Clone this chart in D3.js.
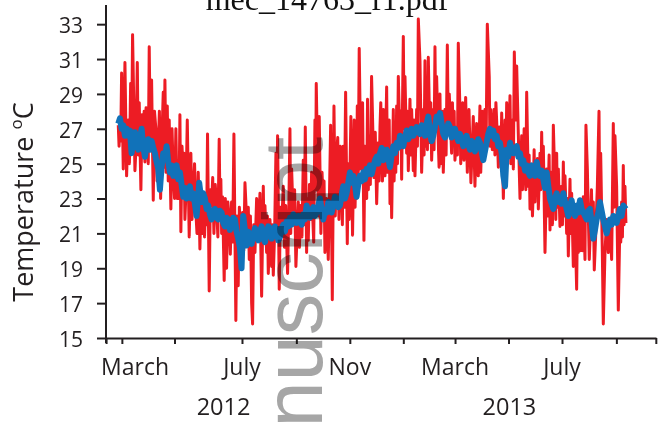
<!DOCTYPE html>
<html><head><meta charset="utf-8">
<script src="https://cdn.jsdelivr.net/npm/d3@7"></script>
<style>body{margin:0;background:#fff}svg{display:block}</style>
</head><body><svg id="c" width="660" height="422"></svg>
<script>
// day = days since 2012-01-01 (UTC), temp in °C
const redSeries = [
[40.9,27.2],[41.8,26.0],[42.8,27.5],[43.7,26.3],[44.7,30.2],[46.6,24.7],[48.5,30.8],[50.4,24.3],[52.3,27.5],[53.6,25.0],[55.0,29.6],[56.1,26.0],[57.2,32.4],[59.9,24.6],[61.0,25.8],[62.6,30.8],[63.7,25.5],[64.8,28.5],[66.7,23.5],[68.0,27.8],[69.4,26.4],[70.4,28.0],[71.3,25.1],[72.6,28.2],[74.0,27.5],[75.1,25.0],[76.2,31.7],[77.5,26.0],[78.9,29.8],[80.8,22.9],[82.2,28.0],[83.8,27.0],[85.1,24.0],[86.5,26.0],[87.8,28.0],[89.2,23.0],[90.7,26.5],[92.2,29.1],[93.1,24.8],[94.1,29.8],[95.4,24.5],[96.8,28.3],[97.9,24.0],[99.0,27.5],[100.9,22.4],[102.2,27.0],[103.6,24.5],[105.1,23.0],[106.6,27.0],[108.0,23.0],[109.3,25.2],[110.2,23.0],[111.2,27.8],[112.3,21.1],[113.6,26.0],[115.0,24.3],[116.0,25.6],[116.9,21.8],[118.2,23.5],[119.6,27.5],[121.8,20.8],[122.8,23.0],[123.7,25.6],[125.0,21.8],[126.4,23.3],[127.9,25.0],[129.4,22.2],[130.7,21.0],[132.1,24.5],[133.0,22.8],[134.0,20.1],[135.5,23.5],[136.7,21.0],[137.8,22.6],[139.3,20.8],[140.8,23.3],[141.7,21.5],[142.7,26.7],[144.6,17.7],[146.0,23.5],[147.3,22.6],[148.6,24.2],[150.0,21.0],[151.5,23.8],[153.0,22.6],[154.5,20.8],[156.0,26.4],[157.0,22.0],[157.9,24.1],[158.8,21.0],[159.8,23.1],[161.7,18.3],[163.0,23.0],[164.4,19.0],[165.9,22.8],[167.4,21.8],[168.7,19.8],[170.1,22.8],[171.4,20.5],[172.8,26.7],[175.0,16.0],[176.3,22.0],[177.7,18.0],[179.0,22.5],[180.4,21.0],[181.5,19.5],
[182.7,22.2],[184.0,20.0],[185.4,23.9],[188.1,20.9],[189.2,22.5],[190.3,19.5],[191.6,22.0],[193.0,17.0],[194.1,15.8],[195.4,21.5],[196.8,19.9],[198.7,23.0],[200.6,20.9],[202.5,23.3],[204.4,17.4],[206.3,23.7],[207.2,20.5],[208.2,22.6],[210.1,19.9],[211.0,22.0],[212.0,18.7],[213.9,21.8],[215.8,19.1],[216.7,21.5],[217.7,18.6],[219.2,21.0],[220.7,25.6],[221.6,21.5],[222.6,26.6],[224.5,17.8],[225.8,22.5],[227.2,21.4],[229.1,23.7],[230.4,20.2],[231.8,22.6],[234.0,18.7],[235.3,22.0],[236.7,27.0],[237.6,21.0],[238.6,24.7],[240.5,21.8],[242.0,23.5],[243.5,19.1],[246.2,22.8],[247.5,20.2],[248.9,22.6],[250.4,20.8],[251.9,25.2],[253.0,21.5],[254.2,27.1],[255.7,19.9],[256.6,23.0],[257.6,20.6],[259.0,23.8],[260.3,21.8],[261.4,24.5],[262.5,22.2],[263.8,20.5],[265.2,27.5],[266.0,23.5],[266.7,29.6],[268.2,25.2],[269.1,22.0],[270.1,27.7],[272.0,21.0],[273.3,24.5],[274.7,22.6],[275.6,24.0],[276.6,19.9],[278.5,23.0],[280.4,19.5],[281.7,23.0],[283.1,27.2],[285.0,17.2],[286.9,28.3],[288.4,22.0],[289.9,25.6],[291.2,26.5],[292.6,21.8],[294.1,26.0],[295.6,23.7],[296.5,21.5],[297.5,26.0],[298.8,22.5],[300.2,29.1],[301.2,24.5],[302.1,20.4],[303.2,25.0],[304.3,21.8],[306.2,27.7],[308.1,20.9],[310.0,27.5],[311.0,22.5],[311.9,25.2],[312.7,23.0],[313.5,28.3],[314.6,24.5],[315.7,31.6],[317.6,24.7],[319.5,28.5],[321.1,20.6],[322.2,26.0],[323.3,24.6],[324.2,23.0],[325.2,28.7],[326.1,23.5],[327.1,26.6],[328.4,23.8],[329.8,30.0],[332.5,24.2],[334.0,26.8],
[335.6,22.7],[337.5,26.2],[338.4,24.0],[339.4,27.1],[340.3,28.5],[341.3,25.8],[342.2,24.0],[343.2,28.1],[345.1,24.3],[347.0,29.4],[347.9,24.5],[348.9,26.2],[349.9,27.5],[350.8,22.7],[351.7,26.0],[352.7,21.9],[354.6,28.1],[355.5,24.0],[356.5,26.2],[357.4,24.5],[358.4,28.3],[359.3,25.0],[360.3,30.0],[362.2,26.2],[363.1,28.0],[364.1,24.1],[366.0,32.3],[366.9,27.0],[367.9,30.0],[369.8,25.6],[370.7,28.0],[371.7,24.6],[373.6,28.7],[374.5,25.5],[375.5,28.1],[377.4,24.6],[378.3,27.5],[379.3,24.3],[381.2,28.1],[382.1,26.0],[383.1,33.3],[385.0,30.9],[386.9,24.5],[388.8,28.1],[389.7,25.5],[390.7,30.9],[391.6,26.0],[392.6,28.1],[393.5,25.8],[394.5,31.1],[396.4,26.2],[397.3,28.5],[398.3,25.2],[400.2,28.1],[401.1,25.8],[402.1,31.7],[403.0,27.0],[404.0,30.0],[405.9,26.2],[406.8,24.8],[407.8,29.0],[408.7,25.0],[409.7,27.1],[410.6,28.0],[411.6,24.5],[413.5,28.1],[414.8,25.5],[416.2,31.8],[417.3,27.0],[418.4,29.0],[421.1,25.6],[422.0,28.5],[423.0,26.2],[424.0,28.0],[424.9,25.2],[426.8,27.1],[427.7,25.5],[428.7,31.9],[430.6,28.1],[431.5,25.0],[432.5,26.2],[433.8,28.5],[435.2,25.2],[437.1,28.8],[439.0,24.5],[440.9,28.1],[443.1,23.9],[445.8,27.7],[447.7,23.7],[449.6,27.3],[451.5,24.3],[453.4,28.3],[454.3,24.5],[455.3,26.2],[456.2,28.0],[457.2,25.2],[459.1,28.1],[460.4,26.0],[461.8,33.0],[464.0,30.0],[464.8,26.0],[465.6,28.1],[467.5,25.8],[469.4,28.1],[470.5,25.5],[471.6,28.5],[473.5,26.2],[474.4,24.8],[475.4,27.1],[477.3,25.2],
[478.2,27.9],[480.1,23.0],[482.0,27.5],[482.9,25.0],[483.9,28.5],[485.8,25.6],[487.7,28.9],[488.6,25.0],[489.6,27.5],[491.5,24.7],[492.6,31.4],[494.2,27.5],[495.3,30.6],[497.2,26.6],[499.1,23.0],[501.0,26.6],[501.9,23.5],[502.9,24.7],[503.8,27.0],[504.8,25.6],[505.7,23.5],[506.7,29.1],[508.6,23.7],[509.5,25.5],[510.5,22.4],[512.4,24.7],[513.3,22.0],[514.3,23.7],[515.2,25.8],[516.2,22.8],[517.1,25.0],[518.1,23.3],[519.0,25.3],[520.0,22.4],[521.9,25.6],[522.8,23.5],[523.8,26.8],[524.7,23.8],[525.7,26.0],[527.6,19.9],[529.5,24.7],[530.4,22.0],[531.4,23.7],[532.3,25.5],[533.3,21.2],[534.2,24.5],[535.2,22.8],[536.1,21.5],[537.1,27.2],[539.0,23.7],[539.9,21.8],[540.9,25.6],[541.8,22.5],[542.8,24.7],[544.7,21.4],[546.6,23.7],[547.5,21.5],[548.5,25.1],[549.4,22.0],[550.4,24.3],[552.3,21.0],[553.2,23.0],[554.2,19.7],[556.1,24.1],[557.0,21.0],[558.0,23.3],[559.9,19.1],[561.8,21.8],[563.7,17.8],[564.6,22.0],[565.6,19.9],[567.5,22.8],[568.4,20.0],[569.4,21.8],[570.3,20.0],[571.3,23.1],[573.2,19.5],[574.3,27.2],[575.9,24.7],[578.1,19.5],[579.7,21.8],[580.6,23.5],[581.6,20.9],[582.7,22.8],[583.8,18.9],[585.4,20.9],[587.3,23.7],[589.2,28.0],[590.1,22.0],[591.1,25.6],[593.0,19.9],[594.1,15.8],[596.0,19.9],[597.9,21.8],[599.8,19.9],[601.7,21.8],[603.6,19.5],[605.5,27.3],[606.4,22.5],[607.4,26.6],[609.3,23.7],[611.2,16.6],[613.1,21.8],[614.0,20.5],[615.0,22.8],[615.9,20.8],[616.9,24.9],[617.8,21.5],[618.8,23.7],[619.9,21.6]
];
const blueSeries = [
[40.9,27.3],[42.8,27.6],[44.7,27.0],[46.6,27.2],[48.5,26.6],[50.4,27.0],[52.3,26.6],[54.2,26.9],[56.1,25.6],[58.0,26.3],[59.9,26.8],[61.8,26.1],[63.7,25.8],[65.6,26.4],[67.5,27.0],[69.4,26.0],[71.3,25.4],[73.2,26.0],[75.1,26.4],[77.0,25.8],[78.9,26.3],[80.8,25.9],[82.7,25.6],[84.6,25.1],[86.5,24.7],[88.4,23.5],[90.3,24.8],[92.2,25.6],[94.1,25.3],[96.0,26.0],[97.9,25.1],[99.8,24.5],[101.7,24.9],[103.6,24.3],[105.5,24.6],[107.4,24.9],[109.3,24.1],[111.2,24.5],[113.1,23.8],[115.0,23.1],[116.9,23.6],[118.8,23.0],[120.7,23.4],[122.6,23.7],[124.5,23.0],[126.4,23.3],[128.3,22.7],[130.2,22.0],[133.2,23.9],[135.9,22.8],[137.8,23.3],[139.7,23.0],[141.6,22.4],[143.5,22.6],[145.4,22.1],[147.3,21.8],[149.2,22.3],[151.1,22.4],[153.0,21.9],[154.9,21.8],[156.8,22.3],[158.7,22.2],[160.6,21.6],[162.5,21.4],[164.4,21.9],[166.3,21.8],[168.2,21.2],[170.1,21.4],[172.0,21.9],[173.9,21.8],[175.8,21.1],[177.7,20.7],[179.6,20.2],[181.5,19.0],[183.4,22.0],
[185.3,21.2],[187.3,20.3],[189.2,21.1],[191.1,20.8],[193.0,20.4],[194.9,20.9],[196.8,21.3],[198.7,21.0],[200.6,20.6],[202.5,21.1],[204.4,21.4],[206.3,20.7],[208.2,20.5],[210.1,21.0],[212.0,21.4],[213.9,21.3],[215.8,20.7],[217.7,20.9],[219.6,21.4],[221.5,21.2],[223.4,20.6],[225.3,20.8],[227.2,21.3],[229.1,21.5],[231.0,21.1],[232.9,21.7],[234.8,21.4],[236.7,21.9],[238.6,21.5],[240.5,22.1],[242.4,21.9],[244.3,21.6],[246.2,22.0],[248.1,21.7],[250.0,21.5],[251.9,22.1],[253.8,21.8],[255.7,22.6],[257.6,22.2],[259.5,21.9],[261.4,22.3],[263.3,22.5],[265.2,22.0],[267.1,22.2],[269.0,22.6],[270.9,23.0],[272.8,22.4],[274.7,21.8],[276.6,22.3],[278.5,22.2],[280.4,22.8],[282.3,22.6],[284.2,22.2],[286.1,22.6],[288.0,23.1],[289.9,23.0],[291.8,22.5],[293.7,22.6],[295.6,23.2],[297.5,23.7],[299.4,23.0],[301.3,23.3],[303.2,23.9],[305.1,24.5],[307.0,23.9],[308.9,24.3],[310.8,23.8],[312.7,23.1],[314.6,23.8],[316.5,24.3],[318.4,24.0],[320.3,24.5],[322.2,24.1],[324.1,24.7],[326.0,24.4],[327.9,24.9],
[329.9,24.4],[331.8,24.8],[333.7,25.2],[335.6,25.4],[337.5,25.0],[339.4,25.6],[341.3,25.9],[343.2,25.2],[345.1,25.5],[347.0,25.8],[348.9,25.3],[350.8,24.8],[352.7,25.5],[354.6,26.0],[356.5,25.6],[358.4,26.2],[360.3,25.9],[362.2,26.6],[364.1,26.4],[366.0,26.0],[367.9,26.5],[369.8,26.9],[371.7,26.4],[373.6,26.7],[375.5,27.0],[377.4,26.6],[379.3,26.8],[381.2,27.1],[383.1,26.9],[385.0,26.7],[386.9,27.2],[388.8,26.9],[390.7,26.6],[392.6,27.3],[394.5,27.7],[396.4,26.7],[398.3,26.3],[400.2,26.6],[402.1,27.1],[404.0,27.7],[405.9,27.4],[407.8,27.9],[409.7,27.3],[411.6,26.7],[413.5,26.5],[415.4,26.9],[417.3,27.3],[419.2,27.1],[421.1,26.5],[423.0,26.7],[424.9,27.0],[426.8,26.6],[428.7,26.3],[430.6,26.7],[432.5,26.4],[434.4,26.0],[436.3,26.3],[438.2,26.6],[440.1,26.1],[442.0,25.8],[443.9,26.3],[445.8,26.2],[447.7,25.7],[449.6,26.0],[451.5,26.4],[453.4,26.2],[455.3,25.7],[457.2,25.2],[459.1,25.7],[461.0,26.2],[462.9,26.7],[464.8,27.0],[466.7,26.6],[468.6,26.9],[470.5,26.4],[472.4,26.6],[474.3,26.0],[476.2,26.2],[478.2,25.6],
[480.1,24.3],[482.0,23.7],[483.9,25.8],[485.8,25.4],[487.7,26.2],[489.6,25.8],[491.5,25.6],[493.4,25.9],[495.3,26.0],[497.2,25.4],[499.1,25.6],[501.0,25.0],[502.9,25.2],[504.8,24.6],[506.7,24.9],[508.6,24.5],[510.5,24.3],[512.4,24.9],[514.3,24.7],[516.2,24.3],[518.1,25.1],[520.0,24.6],[521.9,24.3],[523.8,24.6],[525.7,24.1],[527.6,23.6],[529.5,24.5],[531.4,23.7],[533.3,23.0],[535.2,22.7],[537.1,22.4],[539.0,23.0],[540.9,23.3],[542.8,22.8],[544.7,23.0],[546.6,22.7],[548.5,23.3],[550.4,22.8],[552.3,22.4],[554.2,22.0],[556.1,22.6],[558.0,22.9],[559.9,22.2],[561.8,22.0],[563.7,22.6],[565.6,22.2],[567.5,22.9],[569.4,22.4],[571.3,22.2],[573.2,22.0],[575.1,21.8],[577.0,22.3],[578.9,22.4],[580.8,21.6],[582.7,20.7],[584.6,21.2],[586.5,21.8],[588.4,22.2],[590.3,22.8],[592.2,22.3],[594.1,21.8],[596.0,21.4],[597.9,21.0],[599.8,21.4],[601.7,21.8],[603.6,21.5],[605.5,22.0],[607.4,21.9],[609.3,21.6],[611.2,22.0],[613.1,22.4],[615.0,22.0],[616.9,22.6],[619.9,22.4]
];
const yTicks = [15,17,19,21,23,25,27,29,31,33];
const xTickDates = ["2012-01-28","2012-02-15","2012-04-15","2012-07-01","2012-09-01","2012-11-01","2013-01-01","2013-03-01","2013-05-01","2013-07-01","2013-09-01","2013-10-16"];
const monthLabels = [["2012-03-01","March"],["2012-07-01","July"],["2012-11-01","Nov"],["2013-03-01","March"],["2013-07-01","July"]];
const yearLabels = [["2012-06-10","2012"],["2013-05-02","2013"]];
const titleText = "mec_14763_f1.pdf";
const yTitleText = "Temperature ";
const watermarkText = "manuscript";

const base = Date.UTC(2012,0,1);
const toDate = d => new Date(base + d*864e5);
const parse = d3.utcParse("%Y-%m-%d");

const svg = d3.select("#c");
const ink = "#231f20";
const x = d3.scaleUtc().domain([toDate(26.9), toDate(654.2)]).range([106,656]);
const y = d3.scaleLinear().domain([15,34.1]).range([338,5]);

// title (cut off at top, as in the source)
svg.append("text").attr("x",327).attr("y",9.5).attr("text-anchor","middle")
  .attr("font-family","Liberation Serif").attr("font-size",32).attr("fill","#111").text(titleText);

// data lines
const line = d3.line().x(d=>x(toDate(d[0]))).y(d=>y(d[1]));
svg.append("path").datum(redSeries).attr("d",line).attr("fill","none")
  .attr("stroke","#ed1c24").attr("stroke-width",3).attr("stroke-linejoin","round");
svg.append("path").datum(blueSeries).attr("d",line).attr("fill","none")
  .attr("stroke","#1172b9").attr("stroke-width",6).attr("stroke-linejoin","round");

// y axis
const ya = svg.append("g").attr("transform","translate(106,0)")
  .call(d3.axisLeft(y).tickValues(yTicks).tickSize(9).tickPadding(14).tickSizeOuter(0));
ya.select(".domain").remove();
ya.selectAll(".tick line").attr("stroke",ink).attr("stroke-width",2);
ya.selectAll(".tick text").attr("font-family","Open Sans").attr("font-size",21).attr("fill",ink).attr("dy","0.4em");
svg.append("line").attr("x1",106).attr("x2",106).attr("y1",y.range()[1]).attr("y2",y(15)+5)
  .attr("stroke",ink).attr("stroke-width",2);

// x axis
const xa = svg.append("g").attr("transform",`translate(0,${y(15)})`)
  .call(d3.axisBottom(x).tickValues(xTickDates.map(parse)).tickSize(6).tickSizeOuter(0).tickFormat(""));
xa.select(".domain").attr("stroke",ink).attr("stroke-width",2);
xa.selectAll(".tick line").attr("stroke",ink).attr("stroke-width",2);

svg.append("g").selectAll("text").data(monthLabels).join("text")
  .attr("x",d=>x(parse(d[0]))).attr("y",375).attr("text-anchor","middle")
  .attr("font-family","Open Sans").attr("font-size",23).attr("fill",ink).text(d=>d[1]);
svg.append("g").selectAll("text").data(yearLabels).join("text")
  .attr("x",d=>x(parse(d[0]))).attr("y",415).attr("text-anchor","middle")
  .attr("font-family","Open Sans").attr("font-size",23.5).attr("fill",ink).text(d=>d[1]);

// y title
const yt = svg.append("text").attr("transform","translate(33,202) rotate(-90)").attr("text-anchor","middle")
  .attr("font-family","Open Sans").attr("font-size",27).attr("fill",ink);
yt.append("tspan").text(yTitleText);
yt.append("tspan").attr("font-size",17).attr("dy",-11).text("o");
yt.append("tspan").attr("dy",11).text("C");

// watermark
svg.append("text").attr("transform","translate(322,137) rotate(-90)").attr("text-anchor","end")
  .attr("font-family","Liberation Sans").attr("font-size",83).attr("fill","#a6a6a6")
  .style("mix-blend-mode","multiply").text(watermarkText);
</script></body></html>
